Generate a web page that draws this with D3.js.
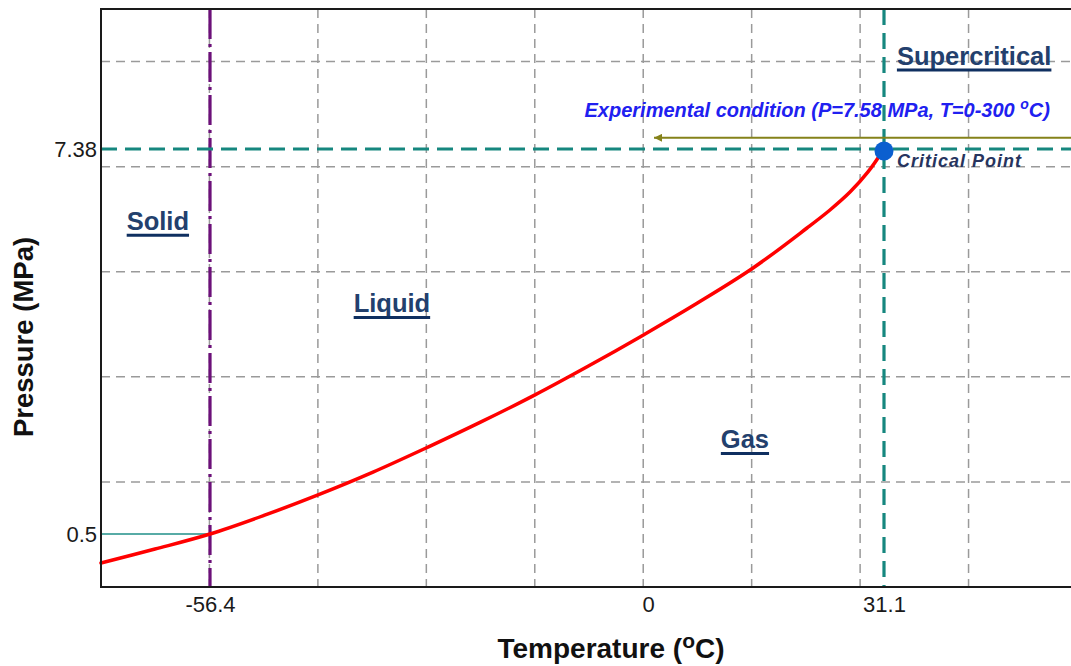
<!DOCTYPE html>
<html>
<head>
<meta charset="utf-8">
<script src="https://cdn.jsdelivr.net/npm/d3@7"></script>
<style>
  html, body { margin: 0; padding: 0; background: #fff; }
  svg { display: block; font-family: "Liberation Sans", Arial, sans-serif; }
</style>
</head>
<body>
<svg id="chart" width="1071" height="666"></svg>
<script>
// CO2 phase diagram (schematic): vapour-pressure curve up to the critical point
const curveTemp = [-70.4, -63.46, -56.4, -49.45, -42.49, -35.41, -28.33, -21.5, -14.55, -7.73, -1.03, 6.46, 13.84, 20.95, 23.98, 26.62, 28.99, 31.1];
const curvePres = [0.226, 0.358, 0.5, 0.832, 1.199, 1.606, 2.053, 2.503, 2.986, 3.497, 4.022, 4.623, 5.253, 5.968, 6.29, 6.61, 6.97, 7.38];

const tempTicks = [-56.4, 0, 31.1];      // triple point, 0 °C, critical temperature
const presTicks = [0.5, 7.38];           // triple-point and critical pressure
const triplePoint = { T: -56.4, P: 0.5 };
const criticalPoint = { T: 31.1, P: 7.38 };
const experiment = { P: 7.58, Tmin: 0, Tmax: 300 };

const phaseNames = ["Solid", "Liquid", "Gas", "Supercritical"];
const phaseTemp = [-67.1, -37.9, 9.6, 32.8];
const phasePres = [5.93, 4.46, 2.03, 8.88];

const margin = { top: 9, left: 101 };
const width = 976, height = 578;
const gridCols = 9, gridRows = 5.5;

const svg = d3.select("#chart");
const g = svg.append("g").attr("transform", `translate(${margin.left},${margin.top})`);

// schematic (not-to-scale) axes: piecewise linear scales
const x = d3.scaleLinear()
  .domain([-70.4, -56.4, 0, 31.1, 56.5])
  .range([0, 109, 547, 783, width]);
const y = d3.scaleLinear()
  .domain([0, 0.5, 7.38, 9.88])
  .range([height, 525, 140, 0]);

// background grid
const gx = d3.scaleLinear().domain([0, gridCols]).range([0, width]);
const gy = d3.scaleLinear().domain([0, gridRows]).range([height, 0]);
const grid = g.append("g").attr("stroke", "#9a9a9a").attr("stroke-width", 1.5).attr("stroke-dasharray", "9,6");
grid.selectAll(".gv").data(d3.range(1, gridCols)).join("line")
  .attr("x1", d => gx(d)).attr("x2", d => gx(d)).attr("y1", 0).attr("y2", height);
grid.selectAll(".gh").data(d3.range(1, Math.floor(gridRows) + 1)).join("line")
  .attr("y1", d => gy(d)).attr("y2", d => gy(d)).attr("x1", 0).attr("x2", width);

// triple-point pressure marker
g.append("line")
  .attr("x1", 0).attr("x2", x(triplePoint.T))
  .attr("y1", y(triplePoint.P)).attr("y2", y(triplePoint.P))
  .attr("stroke", "#1f8f88").attr("stroke-width", 1.6);

// solid / liquid boundary (triple-point temperature)
g.append("line")
  .attr("x1", x(triplePoint.T)).attr("x2", x(triplePoint.T))
  .attr("y1", 0).attr("y2", height)
  .attr("stroke", "#6c1079").attr("stroke-width", 3.2)
  .attr("stroke-dasharray", "30,5,3,5");

// critical temperature and pressure
g.append("line")
  .attr("x1", x(criticalPoint.T)).attr("x2", x(criticalPoint.T))
  .attr("y1", 0).attr("y2", height)
  .attr("stroke", "#16877f").attr("stroke-width", 3.2).attr("stroke-dasharray", "16,8");
g.append("line")
  .attr("x1", 0).attr("x2", width)
  .attr("y1", y(criticalPoint.P)).attr("y2", y(criticalPoint.P))
  .attr("stroke", "#16877f").attr("stroke-width", 3.2).attr("stroke-dasharray", "16,8");

// vapour-pressure curve
const pts = curveTemp.map((t, i) => [t, curvePres[i]]);
g.append("path")
  .datum(pts)
  .attr("fill", "none").attr("stroke", "#ff0000").attr("stroke-width", 3.5)
  .attr("stroke-linecap", "round")
  .attr("d", d3.line().x(d => x(d[0])).y(d => y(d[1])).curve(d3.curveCatmullRom.alpha(0.5)));

// experimental condition arrow
svg.append("defs").append("marker")
  .attr("id", "arrowhead").attr("viewBox", "0 0 10 10")
  .attr("refX", 0).attr("refY", 5)
  .attr("markerWidth", 5).attr("markerHeight", 4)
  .attr("orient", "auto")
  .append("path").attr("d", "M0,5L10,0L10,10Z").attr("fill", "#85821a");
g.append("line")
  .attr("x1", x(experiment.Tmin) + 6).attr("x2", width)
  .attr("y1", y(experiment.P)).attr("y2", y(experiment.P))
  .attr("stroke", "#85821a").attr("stroke-width", 2)
  .attr("marker-start", "url(#arrowhead)");

const expText = g.append("text")
  .attr("x", x(22.3)).attr("y", y(7.95))
  .attr("text-anchor", "middle")
  .attr("font-size", 20).attr("font-weight", "bold").attr("font-style", "italic")
  .attr("fill", "#2020f0");
expText.append("tspan").text(`Experimental condition (P=${experiment.P} MPa, T=${experiment.Tmin}-${experiment.Tmax} `);
expText.append("tspan").attr("font-size", 14).attr("dy", -8).text("o");
expText.append("tspan").attr("dy", 8).text("C)");

// critical point
g.append("circle")
  .attr("cx", x(criticalPoint.T)).attr("cy", y(criticalPoint.P) + 2)
  .attr("r", 9.5).attr("fill", "#0b5fcf");
g.append("text")
  .attr("x", x(32.8)).attr("y", y(7.06))
  .attr("font-size", 18).attr("font-weight", "bold").attr("font-style", "italic")
  .attr("fill", "#27345e").attr("letter-spacing", 1)
  .text("Critical Point");

// phase labels, underlined
phaseNames.forEach((name, i) => {
  const t = g.append("text")
    .attr("x", x(phaseTemp[i])).attr("y", y(phasePres[i]))
    .attr("font-size", 25.5).attr("font-weight", "bold")
    .attr("fill", "#23406d").text(name);
  const bb = t.node().getBBox();
  g.append("line")
    .attr("x1", bb.x).attr("x2", bb.x + bb.width)
    .attr("y1", y(phasePres[i]) + 5).attr("y2", y(phasePres[i]) + 5)
    .attr("stroke", "#0f2f60").attr("stroke-width", 3);
});

// axes
const xAxis = g.append("g").attr("transform", `translate(0,${height})`)
  .call(d3.axisBottom(x).tickValues(tempTicks).tickSize(0).tickPadding(9).tickFormat(d => String(d)));
const yAxis = g.append("g")
  .call(d3.axisLeft(y).tickValues(presTicks).tickSize(0).tickPadding(4).tickFormat(d => String(d)));
[xAxis, yAxis].forEach(a => {
  a.select(".domain").remove();
  a.selectAll("text").attr("font-size", 22).attr("font-family", "Liberation Sans, Arial, sans-serif").attr("fill", "#1a1a1a");
});

// plot frame
g.append("path")
  .attr("d", `M${width},0H0V${height}H${width}`)
  .attr("fill", "none").attr("stroke", "#1a1a1a").attr("stroke-width", 2);

// axis titles
const xt = svg.append("text")
  .attr("x", 611).attr("y", 658).attr("text-anchor", "middle")
  .attr("font-size", 28).attr("font-weight", "bold").attr("fill", "#111");
xt.append("tspan").text("Temperature (");
xt.append("tspan").attr("font-size", 21).attr("dy", -10).text("o");
xt.append("tspan").attr("dy", 10).text("C)");

svg.append("text")
  .attr("transform", "translate(33,337) rotate(-90)")
  .attr("text-anchor", "middle")
  .attr("font-size", 27.5).attr("font-weight", "bold").attr("fill", "#111")
  .text("Pressure (MPa)");
</script>
</body>
</html>
